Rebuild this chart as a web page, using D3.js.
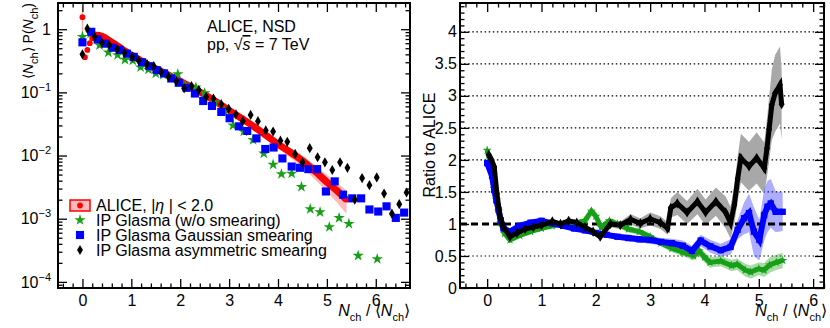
<!DOCTYPE html>
<html lang="en">
<head>
<meta charset="UTF-8">
<title>ALICE NSD multiplicity vs IP Glasma</title>
<script src="https://d3js.org/d3.v7.min.js"></script>
<style>
  body { margin: 0; background: #fff; }
  svg { font-family: "Liberation Sans", Arial, sans-serif; }
  .tick text { font-size: 16px; fill: #000; font-family: "Liberation Sans", Arial, sans-serif; }
</style>
</head>
<body>
<svg width="830" height="328"></svg>
<script>
// ---- left panel: <Nch> P(Nch) vs Nch/<Nch>
const aliceX = [0, 0.05, 0.1, 0.15, 0.2, 0.3, 0.4, 0.6, 0.8, 1.0, 1.25, 1.5, 1.75, 2.0, 2.25, 2.5, 2.75, 3.0, 3.25, 3.5, 3.75, 4.0, 4.25, 4.5, 4.75, 5.0, 5.2, 5.4];
const aliceY = [1.55, 0.36, 0.47, 0.60, 0.72, 0.80, 0.77, 0.62, 0.49, 0.39, 0.30, 0.235, 0.19, 0.15, 0.118, 0.092, 0.070, 0.052, 0.039, 0.029, 0.021, 0.0152, 0.0113, 0.0083, 0.0057, 0.0038, 0.0028, 0.0020];
const aliceSys = [0.45, 0.04, 0.04, 0.04, 0.04, 0.04, 0.04, 0.04, 0.04, 0.04, 0.04, 0.04, 0.05, 0.05, 0.05, 0.06, 0.06, 0.07, 0.08, 0.1, 0.12, 0.15, 0.18, 0.22, 0.26, 0.3, 0.35, 0.4];

const noSmearX = [0, 0.17, 0.35, 0.53, 0.72, 0.87, 1.03, 1.19, 1.35, 1.5, 1.65, 1.8, 1.95, 2.1, 2.32, 2.5, 2.7, 2.9, 3.08, 3.3, 3.49, 3.71, 3.9, 4.07, 4.28, 4.48, 4.66, 4.86, 5.05, 5.25, 5.45, 5.64, 6.03];
const noSmearY = [0.76, 0.86, 0.56, 0.43, 0.39, 0.33, 0.32, 0.25, 0.23, 0.20, 0.19, 0.17, 0.195, 0.13, 0.12, 0.097, 0.070, 0.050, 0.030, 0.024, 0.0177, 0.0108, 0.0072, 0.0051, 0.0052, 0.0032, 0.00142, 0.00127, 0.00074, 0.00103, 0.00083, 0.00026, 0.00023];

const gaussX = [0, 0.18, 0.31, 0.47, 0.62, 0.76, 0.91, 1.05, 1.22, 1.37, 1.52, 1.67, 1.82, 1.97, 2.13, 2.30, 2.47, 2.65, 2.84, 3.01, 3.20, 3.37, 3.56, 3.74, 3.91, 4.09, 4.28, 4.45, 4.62, 4.80, 4.98, 5.16, 5.33, 5.52, 5.70, 5.87, 6.05, 6.22, 6.41, 6.58];
const gaussY = [0.62, 0.91, 0.69, 0.59, 0.51, 0.47, 0.41, 0.365, 0.30, 0.26, 0.225, 0.20, 0.166, 0.142, 0.118, 0.096, 0.073, 0.061, 0.049, 0.039, 0.029, 0.0245, 0.0187, 0.0127, 0.0134, 0.0090, 0.0067, 0.0064, 0.0061, 0.0061, 0.0027, 0.0039, 0.0024, 0.0021, 0.0021, 0.0014, 0.0013, 0.00157, 0.00103, 0.00125];

const asymX = [0, 0.10, 0.25, 0.40, 0.55, 0.71, 0.86, 1.02, 1.15, 1.32, 1.46, 1.61, 1.76, 1.92, 2.08, 2.23, 2.38, 2.53, 2.68, 2.84, 2.99, 3.14, 3.28, 3.44, 3.59, 3.75, 3.90, 4.05, 4.19, 4.35, 4.50, 4.65, 4.81, 4.96, 5.11, 5.27, 5.42, 5.57, 5.72, 5.87, 6.02, 6.17, 6.33, 6.48, 6.63];
const asymY = [0.40, 1.02, 0.76, 0.61, 0.56, 0.48, 0.42, 0.365, 0.32, 0.28, 0.26, 0.21, 0.177, 0.15, 0.116, 0.126, 0.109, 0.085, 0.080, 0.065, 0.055, 0.045, 0.035, 0.044, 0.035, 0.025, 0.024, 0.0172, 0.0165, 0.0106, 0.0078, 0.0131, 0.0094, 0.0078, 0.0059, 0.0078, 0.0064, 0.0020, 0.0044, 0.0034, 0.0045, 0.0025, 0.0012, 0.0017, 0.0026];

// ---- right panel: ratio to ALICE
const rAsymX = [0.03, 0.08, 0.13, 0.18, 0.24, 0.30, 0.42, 0.55, 0.70, 0.85, 1.00, 1.20, 1.35, 1.50, 1.65, 1.80, 1.95, 2.08, 2.27, 2.45, 2.64, 2.82, 3.00, 3.19, 3.32, 3.38, 3.50, 3.68, 3.87, 4.02, 4.21, 4.39, 4.48, 4.55, 4.61, 4.67, 4.82, 4.96, 5.10, 5.15, 5.19, 5.24, 5.30, 5.39, 5.42];
const rAsymY = [2.08, 2.00, 1.89, 1.47, 1.10, 0.95, 0.80, 0.86, 0.92, 0.95, 0.98, 1.04, 1.00, 1.05, 1.02, 0.95, 0.88, 0.80, 1.00, 0.98, 1.07, 1.01, 1.08, 1.02, 0.93, 1.25, 1.32, 1.18, 1.35, 1.18, 1.35, 1.18, 1.02, 1.30, 1.70, 2.03, 1.90, 2.03, 1.87, 2.18, 2.48, 2.86, 3.04, 3.17, 2.87];
const rAsymErr = [0.08, 0.06, 0.05, 0.04, 0.03, 0.03, 0.03, 0.03, 0.03, 0.03, 0.03, 0.03, 0.03, 0.03, 0.03, 0.04, 0.04, 0.04, 0.05, 0.06, 0.08, 0.08, 0.10, 0.10, 0.10, 0.15, 0.18, 0.18, 0.20, 0.20, 0.22, 0.25, 0.25, 0.30, 0.35, 0.38, 0.38, 0.40, 0.40, 0.45, 0.50, 0.55, 0.60, 0.60, 0.55];

const rGaussX = [0.00, 0.09, 0.13, 0.17, 0.21, 0.25, 0.30, 0.42, 0.60, 0.80, 1.00, 1.20, 1.40, 1.60, 1.80, 2.00, 2.20, 2.40, 2.60, 2.80, 3.00, 3.20, 3.40, 3.60, 3.77, 3.93, 4.11, 4.30, 4.48, 4.61, 4.73, 4.82, 4.91, 5.01, 5.10, 5.16, 5.22, 5.31, 5.44];
const rGaussY = [1.95, 1.75, 1.53, 1.37, 1.22, 1.06, 0.93, 0.88, 0.97, 1.02, 1.05, 1.01, 0.97, 0.93, 0.90, 0.86, 0.83, 0.80, 0.78, 0.76, 0.75, 0.72, 0.70, 0.66, 0.58, 0.74, 0.65, 0.59, 0.64, 0.91, 1.09, 1.17, 0.88, 0.75, 1.14, 1.27, 1.32, 1.19, 1.19];
const rGaussErr = [0.06, 0.05, 0.04, 0.04, 0.03, 0.03, 0.03, 0.03, 0.03, 0.03, 0.03, 0.03, 0.03, 0.03, 0.03, 0.04, 0.04, 0.04, 0.05, 0.05, 0.06, 0.06, 0.07, 0.08, 0.08, 0.09, 0.10, 0.10, 0.12, 0.15, 0.25, 0.30, 0.38, 0.32, 0.40, 0.40, 0.38, 0.32, 0.30];

const rNoSmearX = [0.00, 0.09, 0.13, 0.17, 0.21, 0.25, 0.32, 0.42, 0.60, 0.80, 1.00, 1.20, 1.40, 1.60, 1.80, 1.92, 2.00, 2.10, 2.25, 2.40, 2.60, 2.80, 3.00, 3.20, 3.40, 3.60, 3.80, 3.90, 4.00, 4.10, 4.30, 4.50, 4.60, 4.75, 4.85, 5.00, 5.10, 5.20, 5.32, 5.44];
const rNoSmearY = [2.15, 1.82, 1.55, 1.38, 1.20, 1.02, 0.85, 0.75, 0.82, 0.88, 0.93, 0.97, 1.00, 1.01, 1.05, 1.20, 1.12, 0.95, 1.05, 1.00, 0.92, 0.88, 0.80, 0.70, 0.62, 0.56, 0.50, 0.58, 0.48, 0.40, 0.42, 0.35, 0.37, 0.28, 0.25, 0.30, 0.28, 0.36, 0.40, 0.43];
const rNoSmearErr = [0.08, 0.06, 0.05, 0.04, 0.04, 0.03, 0.03, 0.03, 0.03, 0.03, 0.03, 0.03, 0.03, 0.03, 0.04, 0.05, 0.05, 0.05, 0.05, 0.05, 0.05, 0.05, 0.05, 0.05, 0.06, 0.06, 0.07, 0.08, 0.08, 0.08, 0.08, 0.09, 0.09, 0.10, 0.10, 0.10, 0.11, 0.12, 0.12, 0.12];

const ratioTicks = [0, 0.5, 1, 1.5, 2, 2.5, 3, 3.5, 4];
const xTicks = [0, 1, 2, 3, 4, 5, 6];
const logTicks = [1e-4, 1e-3, 1e-2, 1e-1, 1];

const RED = "#ff0000", GREEN = "#17a017", BLUE = "#0000ff", BLACK = "#000";

const svg = d3.select("svg");

const xL = d3.scaleLinear().domain([-0.5, 6.7]).range([58, 410]);
const yL = d3.scaleLog().domain([8e-5, 2.6]).range([288, 3]);
const xR = d3.scaleLinear().domain([-0.5, 6.2]).range([460, 824]);
const yR = d3.scaleLinear().domain([0, 4.45]).range([288, 3]);

// text with italic / sub / sup pieces
function rich(sel, parts) {
  let shift = 0;
  parts.forEach(([t, k]) => {
    const ts = sel.append("tspan").text(t);
    let target = 0;
    if (k === "sub") { target = 5; ts.attr("font-size", "11px"); }
    if (k === "sup") { target = -7; ts.attr("font-size", "11px"); }
    if (k === "i") ts.attr("font-style", "italic");
    if (target !== shift) { ts.attr("dy", target - shift); shift = target; }
  });
}

function minorVals(step, lo, hi, skip) {
  const out = [];
  for (let v = Math.ceil(lo / step) * step; v <= hi + 1e-9; v += step) {
    const r = Math.round(v * 1000) / 1000;
    if (!skip(r)) out.push(r);
  }
  return out;
}

function axes(g, x, y, xMinor, yMajor, yMinor) {
  const [x0, x1] = x.range(), [y0, y1] = y.range();
  const add = (ax, tr) => g.append("g").attr("transform", tr).call(ax)
    .call(s => s.select(".domain").remove())
    .call(s => s.selectAll("line").attr("stroke", "#000").attr("stroke-width", 1.3));
  add(d3.axisBottom(x).tickValues(xTicks).tickSize(-9).tickPadding(7).tickFormat(d3.format("d")), `translate(0,${y0})`);
  add(d3.axisBottom(x).tickValues(xMinor).tickSize(-4.5).tickFormat(""), `translate(0,${y0})`);
  add(d3.axisTop(x).tickValues(xTicks).tickSize(-9).tickFormat(""), `translate(0,${y1})`);
  add(d3.axisTop(x).tickValues(xMinor).tickSize(-4.5).tickFormat(""), `translate(0,${y1})`);
  const left = add(yMajor(d3.axisLeft(y)).tickSize(-9), `translate(${x0},0)`);
  add(d3.axisLeft(y).tickValues(yMinor).tickSize(-4.5).tickFormat(""), `translate(${x0},0)`);
  add(yMajor(d3.axisRight(y)).tickSize(-9).tickFormat(""), `translate(${x1},0)`);
  add(d3.axisRight(y).tickValues(yMinor).tickSize(-4.5).tickFormat(""), `translate(${x1},0)`);
  g.append("rect").attr("x", x0).attr("y", y1).attr("width", x1 - x0).attr("height", y0 - y1)
    .attr("fill", "none").attr("stroke", "#000").attr("stroke-width", 2);
  return left;
}

const sym = (type, size) => d3.symbol().type(type).size(size);

// ================= left panel =================
const gl = svg.append("g");
svg.append("clipPath").attr("id", "clipL").append("rect")
  .attr("x", 58).attr("y", 3).attr("width", 352).attr("height", 285);
const dl = gl.append("g").attr("clip-path", "url(#clipL)");

const alice = aliceX.map((x, i) => ({ x, y: aliceY[i], s: aliceSys[i] }));
const aliceBody = alice.filter(d => d.x >= 0.2);

dl.append("path").datum(aliceBody)
  .attr("fill", "rgba(255,60,60,0.35)")
  .attr("d", d3.area().x(d => xL(d.x)).y0(d => yL(d.y * (1 - d.s))).y1(d => yL(d.y * (1 + d.s))));
dl.selectAll("line.err").data(alice.filter(d => d.x < 0.2)).join("line")
  .attr("class", "err")
  .attr("x1", d => xL(d.x)).attr("x2", d => xL(d.x))
  .attr("y1", d => yL(d.y * (1 - d.s))).attr("y2", d => yL(d.y * (1 + d.s)))
  .attr("stroke", "rgba(255,80,80,0.5)").attr("stroke-width", 1.2);
dl.append("path").datum(aliceBody)
  .attr("fill", "none").attr("stroke", RED).attr("stroke-width", 7).attr("stroke-linejoin", "round")
  .attr("d", d3.line().x(d => xL(d.x)).y(d => yL(d.y)).curve(d3.curveMonotoneX));
dl.selectAll("path.alice").data(alice).join("path")
  .attr("class", "alice")
  .attr("transform", d => `translate(${xL(d.x)},${yL(d.y)})`)
  .attr("d", sym(d3.symbolCircle, 26)).attr("fill", RED);

function markers(parent, xs, ys, sx, sy, type, size, color) {
  parent.append("g").selectAll("path").data(xs.map((x, i) => [x, ys[i]])).join("path")
    .attr("transform", d => `translate(${sx(d[0])},${sy(d[1])})`)
    .attr("d", sym(type, size)).attr("fill", color);
}
markers(dl, noSmearX, noSmearY, xL, yL, d3.symbolStar, 40, GREEN);
markers(dl, gaussX, gaussY, xL, yL, d3.symbolSquare, 66, BLUE);
markers(dl, asymX, asymY, xL, yL, d3.symbolDiamond, 30, BLACK);

const logMinor = [];
[-5, -4, -3, -2, -1, 0].forEach(e => d3.range(2, 10).forEach(m => {
  const v = m * Math.pow(10, e);
  if (v > 8e-5 && v < 2.6) logMinor.push(v);
}));
const leftY = axes(gl, xL, yL, minorVals(0.2, -0.5, 6.7, v => Number.isInteger(v)),
  a => a.tickValues(logTicks).tickPadding(7), logMinor);
leftY.selectAll(".tick text").each(function (v) {
  const t = d3.select(this).text(null);
  if (v === 1) t.text("1");
  else rich(t, [["10", "n"], ["\u2212" + Math.round(-Math.log10(v)), "sup"]]);
});

// legend
const lg = gl.append("g").attr("font-size", 16);
lg.append("rect").attr("x", 70).attr("y", 200).attr("width", 20).attr("height", 11)
  .attr("fill", "rgba(255,60,60,0.35)").attr("stroke", RED).attr("stroke-width", 1.5);
lg.append("path").attr("transform", "translate(80,205.5)").attr("d", sym(d3.symbolCircle, 26)).attr("fill", RED);
lg.append("path").attr("transform", "translate(80,220)").attr("d", sym(d3.symbolStar, 40)).attr("fill", GREEN);
lg.append("path").attr("transform", "translate(80,235)").attr("d", sym(d3.symbolSquare, 66)).attr("fill", BLUE);
lg.append("path").attr("transform", "translate(80,250)").attr("d", sym(d3.symbolDiamond, 30)).attr("fill", BLACK);
rich(lg.append("text").attr("x", 96).attr("y", 211), [["ALICE, |", "n"], ["\u03b7", "i"], [" | < 2.0", "n"]]);
lg.append("text").attr("x", 96).attr("y", 226).text("IP Glasma (w/o smearing)");
lg.append("text").attr("x", 96).attr("y", 241).text("IP Glasma Gaussian smearing");
lg.append("text").attr("x", 96).attr("y", 256).text("IP Glasma asymmetric smearing");

// annotation
gl.append("text").attr("x", 207).attr("y", 32).attr("font-size", 16).text("ALICE, NSD");
const pp = gl.append("text").attr("x", 207).attr("y", 50).attr("font-size", 16);
pp.append("tspan").text("pp, \u221a");
pp.append("tspan").attr("font-style", "italic").style("text-decoration", "overline").text("s");
pp.append("tspan").text(" = 7 TeV");

// axis titles
rich(gl.append("text").attr("transform", "translate(33,3) rotate(-90)").attr("text-anchor", "end").attr("font-size", 14),
  [["\u27e8", "n"], ["N", "i"], ["ch", "sub"], ["\u27e9 P(", "n"], ["N", "i"], ["ch", "sub"], [")", "n"]]);
rich(gl.append("text").attr("x", 410).attr("y", 316).attr("text-anchor", "end").attr("font-size", 16),
  [["N", "i"], ["ch", "sub"], [" / \u27e8", "n"], ["N", "i"], ["ch", "sub"], ["\u27e9", "n"]]);

// ================= right panel =================
const gr = svg.append("g");
const grid = gr.append("g");
grid.selectAll("line").data(ratioTicks.filter(v => v > 0 && v !== 1)).join("line")
  .attr("x1", 460).attr("x2", 824).attr("y1", d => yR(d)).attr("y2", d => yR(d))
  .attr("stroke", "#000").attr("stroke-width", 1.2).attr("stroke-dasharray", "1.5,2.6");

const band = (xs, ys, es) => xs.map((x, i) => ({ x, y: ys[i], e: es[i] }));
const areaR = d3.area().x(d => xR(d.x)).y0(d => yR(d.y - d.e)).y1(d => yR(d.y + d.e));
const lineR = d3.line().x(d => xR(d.x)).y(d => yR(d.y));
const asym = band(rAsymX, rAsymY, rAsymErr);
const gauss = band(rGaussX, rGaussY, rGaussErr);
const noSm = band(rNoSmearX, rNoSmearY, rNoSmearErr);

gr.append("path").datum(asym).attr("d", areaR).attr("fill", "rgb(168,168,168)");
gr.append("path").datum(gauss).attr("d", areaR).attr("fill", "rgba(60,60,255,0.42)");
gr.append("path").datum(noSm).attr("d", areaR).attr("fill", "rgba(30,160,30,0.38)");

gr.append("line").attr("x1", 460).attr("x2", 824).attr("y1", yR(1)).attr("y2", yR(1))
  .attr("stroke", "#000").attr("stroke-width", 3).attr("stroke-dasharray", "7,4");

gr.append("path").datum(noSm).attr("d", lineR).attr("fill", "none").attr("stroke", GREEN).attr("stroke-width", 5);
markers(gr, rNoSmearX, rNoSmearY, xR, yR, d3.symbolStar, 26, GREEN);
gr.append("path").datum(gauss).attr("d", lineR).attr("fill", "none").attr("stroke", BLUE).attr("stroke-width", 6);
markers(gr, rGaussX, rGaussY, xR, yR, d3.symbolSquare, 40, BLUE);
gr.append("path").datum(asym).attr("d", lineR).attr("fill", "none").attr("stroke", BLACK).attr("stroke-width", 5);
markers(gr, rAsymX, rAsymY, xR, yR, d3.symbolDiamond, 30, BLACK);

axes(gr, xR, yR, minorVals(0.2, -0.5, 6.2, v => Number.isInteger(v)),
  a => a.tickValues(ratioTicks).tickPadding(3).tickFormat(d3.format("~g")),
  minorVals(0.1, 0, 4.45, v => Math.abs(v * 2 - Math.round(v * 2)) < 1e-6));

gr.append("text").attr("transform", "translate(435,145) rotate(-90)").attr("text-anchor", "middle")
  .attr("font-size", 16).text("Ratio to ALICE");
rich(gr.append("text").attr("x", 827).attr("y", 316).attr("text-anchor", "end").attr("font-size", 16),
  [["N", "i"], ["ch", "sub"], [" / \u27e8", "n"], ["N", "i"], ["ch", "sub"], ["\u27e9", "n"]]);
</script>
</body>
</html>
